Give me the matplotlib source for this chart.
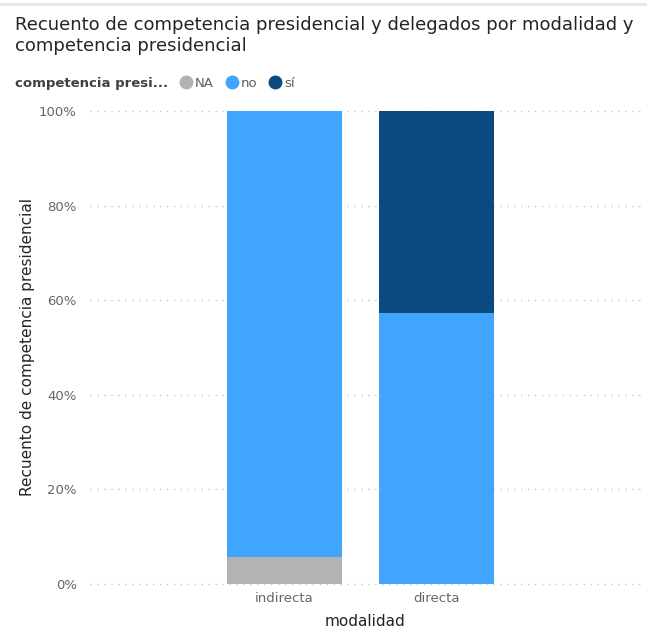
import numpy as np
import matplotlib.pyplot as plt
from matplotlib.lines import Line2D
from matplotlib.ticker import PercentFormatter

# Datos (proporciones)
modalidades = ['indirecta', 'directa']
categorias = ['NA', 'no', 'sí']
pct_NA = [0.057, 0.0]
pct_no = [0.943, 0.572]
pct_si = [0.0, 0.428]
colores = ['#B3B3B3', '#41A4FF', '#0B4A80']

plt.rcParams['font.family'] = ['DejaVu Sans']

fig = plt.figure(figsize=(6.47, 6.30), dpi=100)
ax = fig.add_axes([0.139, 0.073, 0.850, 0.751])

x = np.arange(len(modalidades))
ancho = 0.757
bottom = np.zeros(len(modalidades))
for vals, col, cat in zip([pct_NA, pct_no, pct_si], colores, categorias):
    ax.bar(x, vals, ancho, bottom=bottom, color=col, label=cat, zorder=2)
    bottom += np.array(vals)

ax.set_xlim(-1.28, 2.34)
ax.set_ylim(0, 1)
ax.set_yticks(np.linspace(0, 1, 6))
ax.yaxis.set_major_formatter(PercentFormatter(1.0, decimals=0))
ax.set_xticks(x)
ax.set_xticklabels(modalidades)
ax.grid(axis='y', linestyle=(0, (1, 4)), color='#C8C8C8', linewidth=1, zorder=0)
for gl in ax.get_ygridlines():
    gl.set_clip_on(False)
for s in ax.spines.values():
    s.set_visible(False)
ax.tick_params(length=0, colors='#666666', labelsize=9.5)
ax.tick_params(axis='y', pad=9.5)
ax.tick_params(axis='x', pad=6)

ax.set_xlabel('modalidad', fontsize=11, color='#252423', labelpad=6)
ax.set_ylabel('Recuento de competencia presidencial', fontsize=11, color='#252423', labelpad=3)

# Título
fig.text(0.023, 0.975, 'Recuento de competencia presidencial y delegados por modalidad y\ncompetencia presidencial',
         fontsize=13, color='#252423', va='top', ha='left', linespacing=1.25)

# Leyenda
fig.text(0.023, 0.868, 'competencia presi...', fontsize=9.5, fontweight='bold', color='#404040',
         va='center', ha='left')
handles = [Line2D([], [], marker='o', linestyle='', markersize=9, color=c) for c in colores]
fig.legend(handles, categorias, ncol=3, loc='center left', bbox_to_anchor=(0.279, 0.868),
           frameon=False, handlelength=0.8, handletextpad=0.25, columnspacing=1.0,
           fontsize=9.5, labelcolor='#605E5C', borderpad=0, borderaxespad=0)

# Línea de borde superior
fig.add_artist(Line2D([0.0, 1.0], [0.993, 0.993], color='#E6E6E6', linewidth=2))

fig.savefig('out.png', dpi=100)
